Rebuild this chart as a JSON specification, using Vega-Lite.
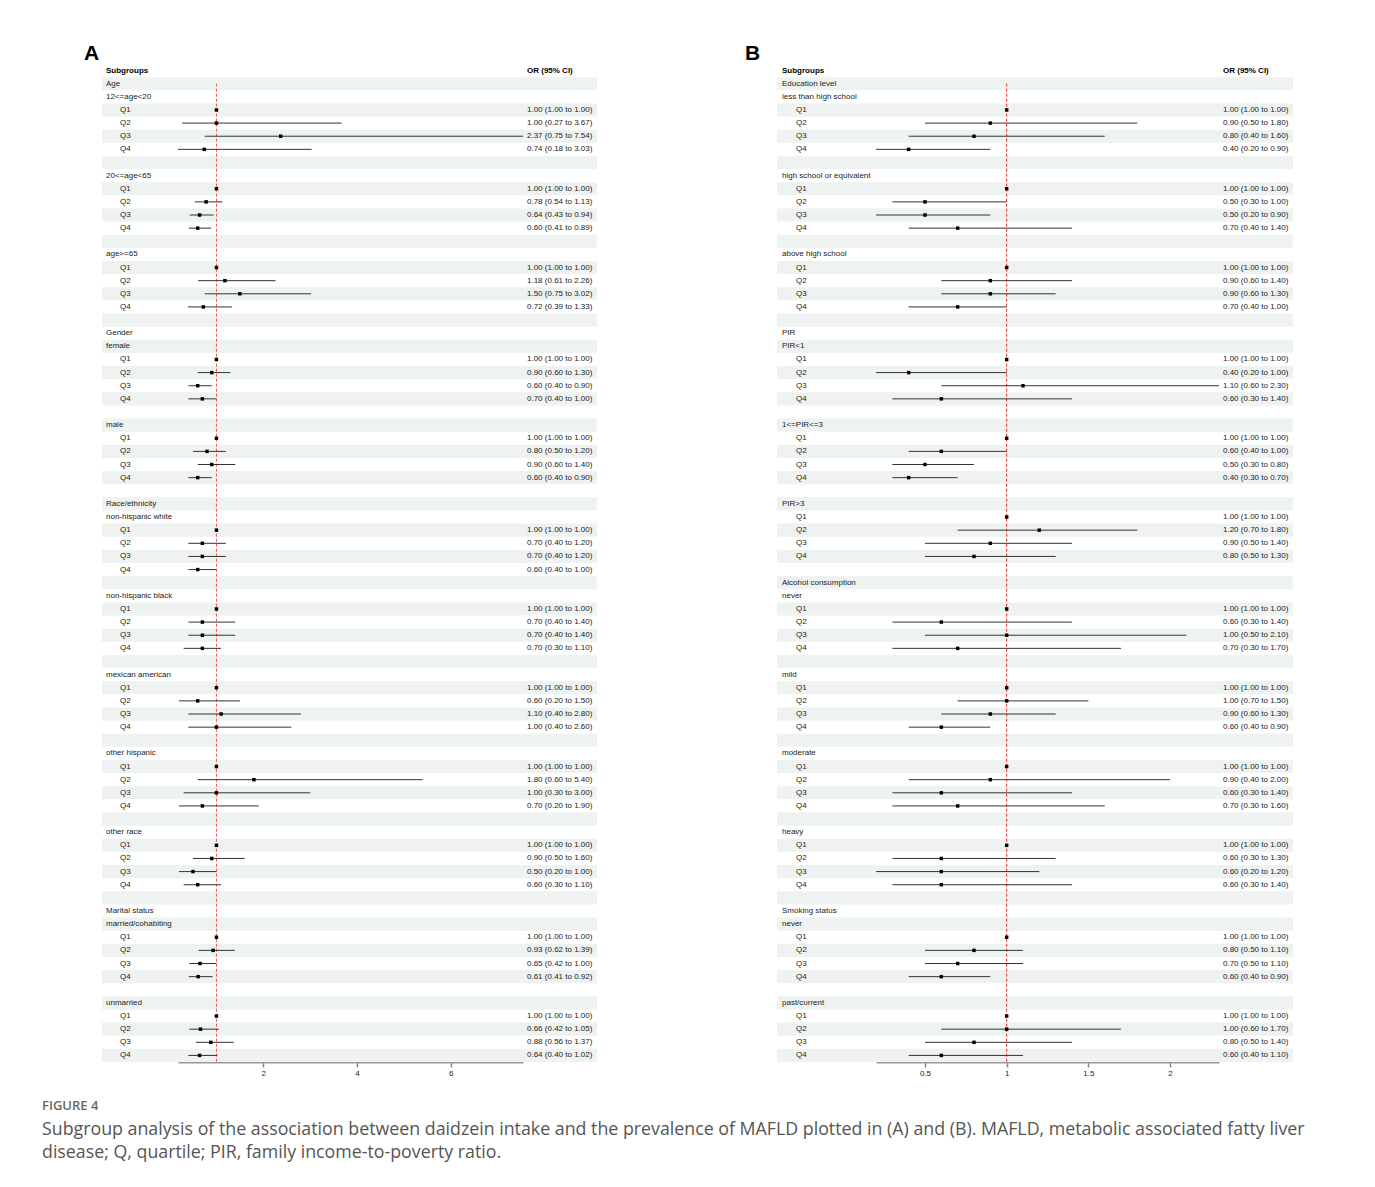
{
  "$schema": "https://vega.github.io/schema/vega-lite/v6.json",
  "background": "white",
  "padding": {"left": 42, "top": 43, "right": 10, "bottom": 10},
  "config": {
    "view": {"stroke": null},
    "text": {"font": "Liberation Sans", "fontSize": 8, "color": "#222"},
    "title": {"font": "Liberation Sans"}
  },
  "title": {
    "text": "FIGURE 4",
    "subtitle": ["Subgroup analysis of the association between daidzein intake and the prevalence of MAFLD plotted in (A) and (B). MAFLD, metabolic associated fatty liver", "disease; Q, quartile; PIR, family income-to-poverty ratio."],
    "orient": "bottom",
    "anchor": "start",
    "frame": "group",
    "dx": -60,
    "offset": 23,
    "font": "Open Sans",
    "fontSize": 13,
    "fontWeight": 600,
    "color": "#666",
    "subtitleFont": "Open Sans",
    "subtitleFontSize": 17.8,
    "subtitleColor": "#555",
    "subtitleLineHeight": 23,
    "subtitlePadding": 8
  },
  "datasets": {
    "A": [
      {"r":0,"l":"Subgroups","k":"h","t":"OR (95% CI)"},
      {"r":1,"l":"Age","k":"g"},
      {"r":2,"l":"12<=age<20","k":"g"},
      {"r":3,"l":"Q1","k":"q","o":1.00,"lo":1.00,"hi":1.00,"t":"1.00 (1.00 to 1.00)"},
      {"r":4,"l":"Q2","k":"q","o":1.00,"lo":0.27,"hi":3.67,"t":"1.00 (0.27 to 3.67)"},
      {"r":5,"l":"Q3","k":"q","o":2.37,"lo":0.75,"hi":7.54,"t":"2.37 (0.75 to 7.54)"},
      {"r":6,"l":"Q4","k":"q","o":0.74,"lo":0.18,"hi":3.03,"t":"0.74 (0.18 to 3.03)"},
      {"r":7,"k":"b"},
      {"r":8,"l":"20<=age<65","k":"g"},
      {"r":9,"l":"Q1","k":"q","o":1.00,"lo":1.00,"hi":1.00,"t":"1.00 (1.00 to 1.00)"},
      {"r":10,"l":"Q2","k":"q","o":0.78,"lo":0.54,"hi":1.13,"t":"0.78 (0.54 to 1.13)"},
      {"r":11,"l":"Q3","k":"q","o":0.64,"lo":0.43,"hi":0.94,"t":"0.64 (0.43 to 0.94)"},
      {"r":12,"l":"Q4","k":"q","o":0.60,"lo":0.41,"hi":0.89,"t":"0.60 (0.41 to 0.89)"},
      {"r":13,"k":"b"},
      {"r":14,"l":"age>=65","k":"g"},
      {"r":15,"l":"Q1","k":"q","o":1.00,"lo":1.00,"hi":1.00,"t":"1.00 (1.00 to 1.00)"},
      {"r":16,"l":"Q2","k":"q","o":1.18,"lo":0.61,"hi":2.26,"t":"1.18 (0.61 to 2.26)"},
      {"r":17,"l":"Q3","k":"q","o":1.50,"lo":0.75,"hi":3.02,"t":"1.50 (0.75 to 3.02)"},
      {"r":18,"l":"Q4","k":"q","o":0.72,"lo":0.39,"hi":1.33,"t":"0.72 (0.39 to 1.33)"},
      {"r":19,"k":"b"},
      {"r":20,"l":"Gender","k":"g"},
      {"r":21,"l":"female","k":"g"},
      {"r":22,"l":"Q1","k":"q","o":1.00,"lo":1.00,"hi":1.00,"t":"1.00 (1.00 to 1.00)"},
      {"r":23,"l":"Q2","k":"q","o":0.90,"lo":0.60,"hi":1.30,"t":"0.90 (0.60 to 1.30)"},
      {"r":24,"l":"Q3","k":"q","o":0.60,"lo":0.40,"hi":0.90,"t":"0.60 (0.40 to 0.90)"},
      {"r":25,"l":"Q4","k":"q","o":0.70,"lo":0.40,"hi":1.00,"t":"0.70 (0.40 to 1.00)"},
      {"r":26,"k":"b"},
      {"r":27,"l":"male","k":"g"},
      {"r":28,"l":"Q1","k":"q","o":1.00,"lo":1.00,"hi":1.00,"t":"1.00 (1.00 to 1.00)"},
      {"r":29,"l":"Q2","k":"q","o":0.80,"lo":0.50,"hi":1.20,"t":"0.80 (0.50 to 1.20)"},
      {"r":30,"l":"Q3","k":"q","o":0.90,"lo":0.60,"hi":1.40,"t":"0.90 (0.60 to 1.40)"},
      {"r":31,"l":"Q4","k":"q","o":0.60,"lo":0.40,"hi":0.90,"t":"0.60 (0.40 to 0.90)"},
      {"r":32,"k":"b"},
      {"r":33,"l":"Race/ethnicity","k":"g"},
      {"r":34,"l":"non-hispanic white","k":"g"},
      {"r":35,"l":"Q1","k":"q","o":1.00,"lo":1.00,"hi":1.00,"t":"1.00 (1.00 to 1.00)"},
      {"r":36,"l":"Q2","k":"q","o":0.70,"lo":0.40,"hi":1.20,"t":"0.70 (0.40 to 1.20)"},
      {"r":37,"l":"Q3","k":"q","o":0.70,"lo":0.40,"hi":1.20,"t":"0.70 (0.40 to 1.20)"},
      {"r":38,"l":"Q4","k":"q","o":0.60,"lo":0.40,"hi":1.00,"t":"0.60 (0.40 to 1.00)"},
      {"r":39,"k":"b"},
      {"r":40,"l":"non-hispanic black","k":"g"},
      {"r":41,"l":"Q1","k":"q","o":1.00,"lo":1.00,"hi":1.00,"t":"1.00 (1.00 to 1.00)"},
      {"r":42,"l":"Q2","k":"q","o":0.70,"lo":0.40,"hi":1.40,"t":"0.70 (0.40 to 1.40)"},
      {"r":43,"l":"Q3","k":"q","o":0.70,"lo":0.40,"hi":1.40,"t":"0.70 (0.40 to 1.40)"},
      {"r":44,"l":"Q4","k":"q","o":0.70,"lo":0.30,"hi":1.10,"t":"0.70 (0.30 to 1.10)"},
      {"r":45,"k":"b"},
      {"r":46,"l":"mexican american","k":"g"},
      {"r":47,"l":"Q1","k":"q","o":1.00,"lo":1.00,"hi":1.00,"t":"1.00 (1.00 to 1.00)"},
      {"r":48,"l":"Q2","k":"q","o":0.60,"lo":0.20,"hi":1.50,"t":"0.60 (0.20 to 1.50)"},
      {"r":49,"l":"Q3","k":"q","o":1.10,"lo":0.40,"hi":2.80,"t":"1.10 (0.40 to 2.80)"},
      {"r":50,"l":"Q4","k":"q","o":1.00,"lo":0.40,"hi":2.60,"t":"1.00 (0.40 to 2.60)"},
      {"r":51,"k":"b"},
      {"r":52,"l":"other hispanic","k":"g"},
      {"r":53,"l":"Q1","k":"q","o":1.00,"lo":1.00,"hi":1.00,"t":"1.00 (1.00 to 1.00)"},
      {"r":54,"l":"Q2","k":"q","o":1.80,"lo":0.60,"hi":5.40,"t":"1.80 (0.60 to 5.40)"},
      {"r":55,"l":"Q3","k":"q","o":1.00,"lo":0.30,"hi":3.00,"t":"1.00 (0.30 to 3.00)"},
      {"r":56,"l":"Q4","k":"q","o":0.70,"lo":0.20,"hi":1.90,"t":"0.70 (0.20 to 1.90)"},
      {"r":57,"k":"b"},
      {"r":58,"l":"other race","k":"g"},
      {"r":59,"l":"Q1","k":"q","o":1.00,"lo":1.00,"hi":1.00,"t":"1.00 (1.00 to 1.00)"},
      {"r":60,"l":"Q2","k":"q","o":0.90,"lo":0.50,"hi":1.60,"t":"0.90 (0.50 to 1.60)"},
      {"r":61,"l":"Q3","k":"q","o":0.50,"lo":0.20,"hi":1.00,"t":"0.50 (0.20 to 1.00)"},
      {"r":62,"l":"Q4","k":"q","o":0.60,"lo":0.30,"hi":1.10,"t":"0.60 (0.30 to 1.10)"},
      {"r":63,"k":"b"},
      {"r":64,"l":"Marital status","k":"g"},
      {"r":65,"l":"married/cohabiting","k":"g"},
      {"r":66,"l":"Q1","k":"q","o":1.00,"lo":1.00,"hi":1.00,"t":"1.00 (1.00 to 1.00)"},
      {"r":67,"l":"Q2","k":"q","o":0.93,"lo":0.62,"hi":1.39,"t":"0.93 (0.62 to 1.39)"},
      {"r":68,"l":"Q3","k":"q","o":0.65,"lo":0.42,"hi":1.00,"t":"0.65 (0.42 to 1.00)"},
      {"r":69,"l":"Q4","k":"q","o":0.61,"lo":0.41,"hi":0.92,"t":"0.61 (0.41 to 0.92)"},
      {"r":70,"k":"b"},
      {"r":71,"l":"unmarried","k":"g"},
      {"r":72,"l":"Q1","k":"q","o":1.00,"lo":1.00,"hi":1.00,"t":"1.00 (1.00 to 1.00)"},
      {"r":73,"l":"Q2","k":"q","o":0.66,"lo":0.42,"hi":1.05,"t":"0.66 (0.42 to 1.05)"},
      {"r":74,"l":"Q3","k":"q","o":0.88,"lo":0.56,"hi":1.37,"t":"0.88 (0.56 to 1.37)"},
      {"r":75,"l":"Q4","k":"q","o":0.64,"lo":0.40,"hi":1.02,"t":"0.64 (0.40 to 1.02)"}
    ],
    "B": [
      {"r":0,"l":"Subgroups","k":"h","t":"OR (95% CI)"},
      {"r":1,"l":"Education level","k":"g"},
      {"r":2,"l":"less than high school","k":"g"},
      {"r":3,"l":"Q1","k":"q","o":1.00,"lo":1.00,"hi":1.00,"t":"1.00 (1.00 to 1.00)"},
      {"r":4,"l":"Q2","k":"q","o":0.90,"lo":0.50,"hi":1.80,"t":"0.90 (0.50 to 1.80)"},
      {"r":5,"l":"Q3","k":"q","o":0.80,"lo":0.40,"hi":1.60,"t":"0.80 (0.40 to 1.60)"},
      {"r":6,"l":"Q4","k":"q","o":0.40,"lo":0.20,"hi":0.90,"t":"0.40 (0.20 to 0.90)"},
      {"r":7,"k":"b"},
      {"r":8,"l":"high school or equivalent","k":"g"},
      {"r":9,"l":"Q1","k":"q","o":1.00,"lo":1.00,"hi":1.00,"t":"1.00 (1.00 to 1.00)"},
      {"r":10,"l":"Q2","k":"q","o":0.50,"lo":0.30,"hi":1.00,"t":"0.50 (0.30 to 1.00)"},
      {"r":11,"l":"Q3","k":"q","o":0.50,"lo":0.20,"hi":0.90,"t":"0.50 (0.20 to 0.90)"},
      {"r":12,"l":"Q4","k":"q","o":0.70,"lo":0.40,"hi":1.40,"t":"0.70 (0.40 to 1.40)"},
      {"r":13,"k":"b"},
      {"r":14,"l":"above high school","k":"g"},
      {"r":15,"l":"Q1","k":"q","o":1.00,"lo":1.00,"hi":1.00,"t":"1.00 (1.00 to 1.00)"},
      {"r":16,"l":"Q2","k":"q","o":0.90,"lo":0.60,"hi":1.40,"t":"0.90 (0.60 to 1.40)"},
      {"r":17,"l":"Q3","k":"q","o":0.90,"lo":0.60,"hi":1.30,"t":"0.90 (0.60 to 1.30)"},
      {"r":18,"l":"Q4","k":"q","o":0.70,"lo":0.40,"hi":1.00,"t":"0.70 (0.40 to 1.00)"},
      {"r":19,"k":"b"},
      {"r":20,"l":"PIR","k":"g"},
      {"r":21,"l":"PIR<1","k":"g"},
      {"r":22,"l":"Q1","k":"q","o":1.00,"lo":1.00,"hi":1.00,"t":"1.00 (1.00 to 1.00)"},
      {"r":23,"l":"Q2","k":"q","o":0.40,"lo":0.20,"hi":1.00,"t":"0.40 (0.20 to 1.00)"},
      {"r":24,"l":"Q3","k":"q","o":1.10,"lo":0.60,"hi":2.30,"t":"1.10 (0.60 to 2.30)"},
      {"r":25,"l":"Q4","k":"q","o":0.60,"lo":0.30,"hi":1.40,"t":"0.60 (0.30 to 1.40)"},
      {"r":26,"k":"b"},
      {"r":27,"l":"1<=PIR<=3","k":"g"},
      {"r":28,"l":"Q1","k":"q","o":1.00,"lo":1.00,"hi":1.00,"t":"1.00 (1.00 to 1.00)"},
      {"r":29,"l":"Q2","k":"q","o":0.60,"lo":0.40,"hi":1.00,"t":"0.60 (0.40 to 1.00)"},
      {"r":30,"l":"Q3","k":"q","o":0.50,"lo":0.30,"hi":0.80,"t":"0.50 (0.30 to 0.80)"},
      {"r":31,"l":"Q4","k":"q","o":0.40,"lo":0.30,"hi":0.70,"t":"0.40 (0.30 to 0.70)"},
      {"r":32,"k":"b"},
      {"r":33,"l":"PIR>3","k":"g"},
      {"r":34,"l":"Q1","k":"q","o":1.00,"lo":1.00,"hi":1.00,"t":"1.00 (1.00 to 1.00)"},
      {"r":35,"l":"Q2","k":"q","o":1.20,"lo":0.70,"hi":1.80,"t":"1.20 (0.70 to 1.80)"},
      {"r":36,"l":"Q3","k":"q","o":0.90,"lo":0.50,"hi":1.40,"t":"0.90 (0.50 to 1.40)"},
      {"r":37,"l":"Q4","k":"q","o":0.80,"lo":0.50,"hi":1.30,"t":"0.80 (0.50 to 1.30)"},
      {"r":38,"k":"b"},
      {"r":39,"l":"Alcohol consumption","k":"g"},
      {"r":40,"l":"never","k":"g"},
      {"r":41,"l":"Q1","k":"q","o":1.00,"lo":1.00,"hi":1.00,"t":"1.00 (1.00 to 1.00)"},
      {"r":42,"l":"Q2","k":"q","o":0.60,"lo":0.30,"hi":1.40,"t":"0.60 (0.30 to 1.40)"},
      {"r":43,"l":"Q3","k":"q","o":1.00,"lo":0.50,"hi":2.10,"t":"1.00 (0.50 to 2.10)"},
      {"r":44,"l":"Q4","k":"q","o":0.70,"lo":0.30,"hi":1.70,"t":"0.70 (0.30 to 1.70)"},
      {"r":45,"k":"b"},
      {"r":46,"l":"mild","k":"g"},
      {"r":47,"l":"Q1","k":"q","o":1.00,"lo":1.00,"hi":1.00,"t":"1.00 (1.00 to 1.00)"},
      {"r":48,"l":"Q2","k":"q","o":1.00,"lo":0.70,"hi":1.50,"t":"1.00 (0.70 to 1.50)"},
      {"r":49,"l":"Q3","k":"q","o":0.90,"lo":0.60,"hi":1.30,"t":"0.90 (0.60 to 1.30)"},
      {"r":50,"l":"Q4","k":"q","o":0.60,"lo":0.40,"hi":0.90,"t":"0.60 (0.40 to 0.90)"},
      {"r":51,"k":"b"},
      {"r":52,"l":"moderate","k":"g"},
      {"r":53,"l":"Q1","k":"q","o":1.00,"lo":1.00,"hi":1.00,"t":"1.00 (1.00 to 1.00)"},
      {"r":54,"l":"Q2","k":"q","o":0.90,"lo":0.40,"hi":2.00,"t":"0.90 (0.40 to 2.00)"},
      {"r":55,"l":"Q3","k":"q","o":0.60,"lo":0.30,"hi":1.40,"t":"0.60 (0.30 to 1.40)"},
      {"r":56,"l":"Q4","k":"q","o":0.70,"lo":0.30,"hi":1.60,"t":"0.70 (0.30 to 1.60)"},
      {"r":57,"k":"b"},
      {"r":58,"l":"heavy","k":"g"},
      {"r":59,"l":"Q1","k":"q","o":1.00,"lo":1.00,"hi":1.00,"t":"1.00 (1.00 to 1.00)"},
      {"r":60,"l":"Q2","k":"q","o":0.60,"lo":0.30,"hi":1.30,"t":"0.60 (0.30 to 1.30)"},
      {"r":61,"l":"Q3","k":"q","o":0.60,"lo":0.20,"hi":1.20,"t":"0.60 (0.20 to 1.20)"},
      {"r":62,"l":"Q4","k":"q","o":0.60,"lo":0.30,"hi":1.40,"t":"0.60 (0.30 to 1.40)"},
      {"r":63,"k":"b"},
      {"r":64,"l":"Smoking status","k":"g"},
      {"r":65,"l":"never","k":"g"},
      {"r":66,"l":"Q1","k":"q","o":1.00,"lo":1.00,"hi":1.00,"t":"1.00 (1.00 to 1.00)"},
      {"r":67,"l":"Q2","k":"q","o":0.80,"lo":0.50,"hi":1.10,"t":"0.80 (0.50 to 1.10)"},
      {"r":68,"l":"Q3","k":"q","o":0.70,"lo":0.50,"hi":1.10,"t":"0.70 (0.50 to 1.10)"},
      {"r":69,"l":"Q4","k":"q","o":0.60,"lo":0.40,"hi":0.90,"t":"0.60 (0.40 to 0.90)"},
      {"r":70,"k":"b"},
      {"r":71,"l":"past/current","k":"g"},
      {"r":72,"l":"Q1","k":"q","o":1.00,"lo":1.00,"hi":1.00,"t":"1.00 (1.00 to 1.00)"},
      {"r":73,"l":"Q2","k":"q","o":1.00,"lo":0.60,"hi":1.70,"t":"1.00 (0.60 to 1.70)"},
      {"r":74,"l":"Q3","k":"q","o":0.80,"lo":0.50,"hi":1.40,"t":"0.80 (0.50 to 1.40)"},
      {"r":75,"l":"Q4","k":"q","o":0.60,"lo":0.40,"hi":1.10,"t":"0.60 (0.40 to 1.10)"}
    ]
  },
  "hconcat": [
    {
      "title": {"text": "A", "anchor": "start", "dx": -18, "fontSize": 21, "fontWeight": "bold", "color": "#000", "offset": 0},
      "bounds": "flush",
      "spacing": 0,
      "hconcat": [
        {
          "width": 76, "height": 998,
          "data": {"name": "A"},
          "encoding": {"y": {"field": "r", "type": "ordinal", "axis": null, "scale": {"domain": [0,1,2,3,4,5,6,7,8,9,10,11,12,13,14,15,16,17,18,19,20,21,22,23,24,25,26,27,28,29,30,31,32,33,34,35,36,37,38,39,40,41,42,43,44,45,46,47,48,49,50,51,52,53,54,55,56,57,58,59,60,61,62,63,64,65,66,67,68,69,70,71,72,73,74,75], "paddingInner": 0, "paddingOuter": 0}}},
          "layer": [
            {"transform": [{"filter": "datum.r % 2 == 1"}], "mark": {"type": "rect", "color": "#eef2f1"},
             "encoding": {"x": {"datum": 0, "type": "quantitative", "scale": {"domain": [0, 1], "nice": false, "zero": false}, "axis": null}, "x2": {"datum": 1}}},
            {"transform": [{"filter": "datum.k == 'g'"}], "mark": {"type": "text", "align": "left", "dx": 4},
             "encoding": {"x": {"datum": 0, "type": "quantitative"}, "text": {"field": "l"}}},
            {"transform": [{"filter": "datum.k == 'q'"}], "mark": {"type": "text", "align": "left", "dx": 18},
             "encoding": {"x": {"datum": 0, "type": "quantitative"}, "text": {"field": "l"}}},
            {"transform": [{"filter": "datum.k == 'h'"}], "mark": {"type": "text", "align": "left", "dx": 4, "fontWeight": "bold", "color": "#000"},
             "encoding": {"x": {"datum": 0, "type": "quantitative"}, "text": {"field": "l"}}}
          ]
        },
        {
          "width": 345, "height": 998,
          "data": {"name": "A"},
          "encoding": {"y": {"field": "r", "type": "ordinal", "axis": null, "scale": {"domain": [0,1,2,3,4,5,6,7,8,9,10,11,12,13,14,15,16,17,18,19,20,21,22,23,24,25,26,27,28,29,30,31,32,33,34,35,36,37,38,39,40,41,42,43,44,45,46,47,48,49,50,51,52,53,54,55,56,57,58,59,60,61,62,63,64,65,66,67,68,69,70,71,72,73,74,75], "paddingInner": 0, "paddingOuter": 0}}},
          "layer": [
            {"transform": [{"filter": "datum.r % 2 == 1"}], "mark": {"type": "rect", "color": "#eef2f1"},
             "encoding": {"x": {"datum": 0.18, "type": "quantitative", "title": null, "scale": {"domain": [0.18, 7.54], "nice": false, "zero": false},
               "axis": {"values": [2, 4, 6], "format": "~g", "title": null, "grid": false, "domainColor": "#999", "domainWidth": 2, "tickColor": "#888", "tickWidth": 1.5, "tickSize": 5, "labelFont": "Liberation Sans", "labelFontSize": 8, "labelColor": "#222", "labelPadding": 2}},
               "x2": {"datum": 7.54}}},
            {"data": {"values": [{}]}, "mark": {"type": "rule", "color": "#f05050", "strokeDash": [3, 2], "strokeWidth": 1},
             "encoding": {"x": {"datum": 1, "type": "quantitative", "title": null}, "y": {"datum": 1, "type": "ordinal"}, "y2": {"value": "height"}}},
            {"transform": [{"filter": "datum.k == 'q'"}], "mark": {"type": "rule", "color": "#333", "strokeWidth": 1},
             "encoding": {"x": {"field": "lo", "type": "quantitative", "title": null}, "x2": {"field": "hi"}}},
            {"transform": [{"filter": "datum.k == 'q'"}], "mark": {"type": "square", "color": "#000", "filled": true, "opacity": 1, "size": 12},
             "encoding": {"x": {"field": "o", "type": "quantitative", "title": null}}}
          ]
        },
        {
          "width": 74, "height": 998,
          "data": {"name": "A"},
          "encoding": {"y": {"field": "r", "type": "ordinal", "axis": null, "scale": {"domain": [0,1,2,3,4,5,6,7,8,9,10,11,12,13,14,15,16,17,18,19,20,21,22,23,24,25,26,27,28,29,30,31,32,33,34,35,36,37,38,39,40,41,42,43,44,45,46,47,48,49,50,51,52,53,54,55,56,57,58,59,60,61,62,63,64,65,66,67,68,69,70,71,72,73,74,75], "paddingInner": 0, "paddingOuter": 0}}},
          "layer": [
            {"transform": [{"filter": "datum.r % 2 == 1"}], "mark": {"type": "rect", "color": "#eef2f1"},
             "encoding": {"x": {"datum": 0, "type": "quantitative", "scale": {"domain": [0, 1], "nice": false, "zero": false}, "axis": null}, "x2": {"datum": 1}}},
            {"transform": [{"filter": "datum.k == 'q'"}], "mark": {"type": "text", "align": "left", "dx": 4},
             "encoding": {"x": {"datum": 0, "type": "quantitative"}, "text": {"field": "t"}}},
            {"transform": [{"filter": "datum.k == 'h'"}], "mark": {"type": "text", "align": "left", "dx": 4, "fontWeight": "bold", "color": "#000"},
             "encoding": {"x": {"datum": 0, "type": "quantitative"}, "text": {"field": "t"}}}
          ]
        }
      ]
    },
    {
      "title": {"text": "B", "anchor": "start", "dx": -32, "fontSize": 21, "fontWeight": "bold", "color": "#000", "offset": 0},
      "bounds": "flush",
      "spacing": 0,
      "hconcat": [
        {
          "width": 99, "height": 998,
          "data": {"name": "B"},
          "encoding": {"y": {"field": "r", "type": "ordinal", "axis": null, "scale": {"domain": [0,1,2,3,4,5,6,7,8,9,10,11,12,13,14,15,16,17,18,19,20,21,22,23,24,25,26,27,28,29,30,31,32,33,34,35,36,37,38,39,40,41,42,43,44,45,46,47,48,49,50,51,52,53,54,55,56,57,58,59,60,61,62,63,64,65,66,67,68,69,70,71,72,73,74,75], "paddingInner": 0, "paddingOuter": 0}}},
          "layer": [
            {"transform": [{"filter": "datum.r % 2 == 1"}], "mark": {"type": "rect", "color": "#eef2f1"},
             "encoding": {"x": {"datum": 0, "type": "quantitative", "scale": {"domain": [0, 1], "nice": false, "zero": false}, "axis": null}, "x2": {"datum": 1}}},
            {"transform": [{"filter": "datum.k == 'g'"}], "mark": {"type": "text", "align": "left", "dx": 5},
             "encoding": {"x": {"datum": 0, "type": "quantitative"}, "text": {"field": "l"}}},
            {"transform": [{"filter": "datum.k == 'q'"}], "mark": {"type": "text", "align": "left", "dx": 19},
             "encoding": {"x": {"datum": 0, "type": "quantitative"}, "text": {"field": "l"}}},
            {"transform": [{"filter": "datum.k == 'h'"}], "mark": {"type": "text", "align": "left", "dx": 5, "fontWeight": "bold", "color": "#000"},
             "encoding": {"x": {"datum": 0, "type": "quantitative"}, "text": {"field": "l"}}}
          ]
        },
        {
          "width": 343, "height": 998,
          "data": {"name": "B"},
          "encoding": {"y": {"field": "r", "type": "ordinal", "axis": null, "scale": {"domain": [0,1,2,3,4,5,6,7,8,9,10,11,12,13,14,15,16,17,18,19,20,21,22,23,24,25,26,27,28,29,30,31,32,33,34,35,36,37,38,39,40,41,42,43,44,45,46,47,48,49,50,51,52,53,54,55,56,57,58,59,60,61,62,63,64,65,66,67,68,69,70,71,72,73,74,75], "paddingInner": 0, "paddingOuter": 0}}},
          "layer": [
            {"transform": [{"filter": "datum.r % 2 == 1"}], "mark": {"type": "rect", "color": "#eef2f1"},
             "encoding": {"x": {"datum": 0.2, "type": "quantitative", "title": null, "scale": {"domain": [0.2, 2.3], "nice": false, "zero": false},
               "axis": {"values": [0.5, 1, 1.5, 2], "format": "~g", "title": null, "grid": false, "domainColor": "#999", "domainWidth": 2, "tickColor": "#888", "tickWidth": 1.5, "tickSize": 5, "labelFont": "Liberation Sans", "labelFontSize": 8, "labelColor": "#222", "labelPadding": 2}},
               "x2": {"datum": 2.3}}},
            {"data": {"values": [{}]}, "mark": {"type": "rule", "color": "#e8292c", "strokeDash": [3, 2], "strokeWidth": 1},
             "encoding": {"x": {"datum": 1, "type": "quantitative", "title": null}, "y": {"datum": 1, "type": "ordinal"}, "y2": {"value": "height"}}},
            {"transform": [{"filter": "datum.k == 'q'"}], "mark": {"type": "rule", "color": "#333", "strokeWidth": 1},
             "encoding": {"x": {"field": "lo", "type": "quantitative", "title": null}, "x2": {"field": "hi"}}},
            {"transform": [{"filter": "datum.k == 'q'"}], "mark": {"type": "square", "color": "#000", "filled": true, "opacity": 1, "size": 12},
             "encoding": {"x": {"field": "o", "type": "quantitative", "title": null}}}
          ]
        },
        {
          "width": 74, "height": 998,
          "data": {"name": "B"},
          "encoding": {"y": {"field": "r", "type": "ordinal", "axis": null, "scale": {"domain": [0,1,2,3,4,5,6,7,8,9,10,11,12,13,14,15,16,17,18,19,20,21,22,23,24,25,26,27,28,29,30,31,32,33,34,35,36,37,38,39,40,41,42,43,44,45,46,47,48,49,50,51,52,53,54,55,56,57,58,59,60,61,62,63,64,65,66,67,68,69,70,71,72,73,74,75], "paddingInner": 0, "paddingOuter": 0}}},
          "layer": [
            {"transform": [{"filter": "datum.r % 2 == 1"}], "mark": {"type": "rect", "color": "#eef2f1"},
             "encoding": {"x": {"datum": 0, "type": "quantitative", "scale": {"domain": [0, 1], "nice": false, "zero": false}, "axis": null}, "x2": {"datum": 1}}},
            {"transform": [{"filter": "datum.k == 'q'"}], "mark": {"type": "text", "align": "left", "dx": 4},
             "encoding": {"x": {"datum": 0, "type": "quantitative"}, "text": {"field": "t"}}},
            {"transform": [{"filter": "datum.k == 'h'"}], "mark": {"type": "text", "align": "left", "dx": 4, "fontWeight": "bold", "color": "#000"},
             "encoding": {"x": {"datum": 0, "type": "quantitative"}, "text": {"field": "t"}}}
          ]
        }
      ]
    }
  ],
  "spacing": 148,
  "bounds": "full"
}
